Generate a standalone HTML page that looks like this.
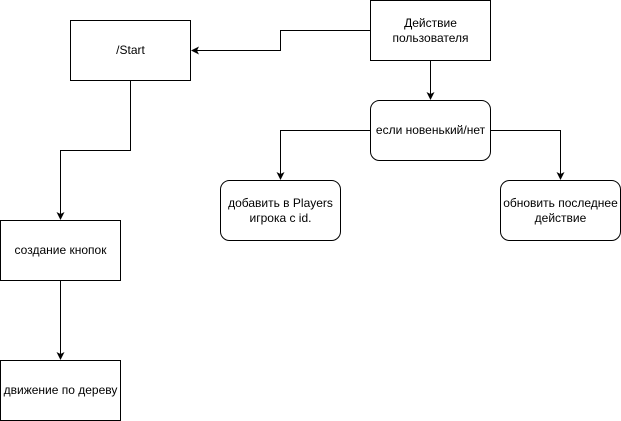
<!DOCTYPE html>
<html><head><meta charset="utf-8"><style>
html,body{margin:0;padding:0;background:#fff;width:621px;height:421px;overflow:hidden}
svg text{font-family:"Liberation Sans",sans-serif;font-size:12px;fill:#000}
</style></head><body>
<svg width="621" height="421" viewBox="0 0 621 421" xmlns="http://www.w3.org/2000/svg">
<defs><marker id="a" markerWidth="8" markerHeight="8" refX="7" refY="4" orient="auto" markerUnits="userSpaceOnUse"><path d="M0,0 L8,4 L0,8 L2,4 Z" fill="#000"/></marker></defs>
<g fill="#fff" stroke="#000" stroke-width="1">
<rect x="70.5" y="20.5" width="120" height="60"/>
<rect x="370.5" y="0.5" width="120" height="60"/>
<rect x="370.5" y="100.5" width="120" height="60" rx="9"/>
<rect x="220.5" y="180.5" width="120" height="60" rx="9"/>
<rect x="500.5" y="180.5" width="120" height="60" rx="9"/>
<rect x="0.5" y="220.5" width="120" height="60"/>
<rect x="0.5" y="360.5" width="120" height="60"/>
</g>
<g fill="none" stroke="#000" stroke-width="1">
<path d="M370.5 30.5 H280.5 V50.5 H192" marker-end="url(#a)"/>
<path d="M430.5 60.5 V99" marker-end="url(#a)"/>
<path d="M370.5 130.5 H280.5 V179" marker-end="url(#a)"/>
<path d="M490.5 130.5 H560.5 V179" marker-end="url(#a)"/>
<path d="M130.5 80.5 V150.5 H60.5 V219" marker-end="url(#a)"/>
<path d="M60.5 280.5 V359" marker-end="url(#a)"/>
</g>
<g text-anchor="middle">
<text x="130.5" y="54">/Start</text>
<text x="430.5" y="27">Действие</text>
<text x="430.5" y="42">пользователя</text>
<text x="430.5" y="134">если новенький/нет</text>
<text x="280.5" y="207">добавить в Players</text>
<text x="280.5" y="222">игрока с id.</text>
<text x="560.5" y="207">обновить последнее</text>
<text x="560.5" y="222">действие</text>
<text x="60.5" y="254">создание кнопок</text>
<text x="60.5" y="394">движение по дереву</text>
</g>
</svg>
</body></html>
